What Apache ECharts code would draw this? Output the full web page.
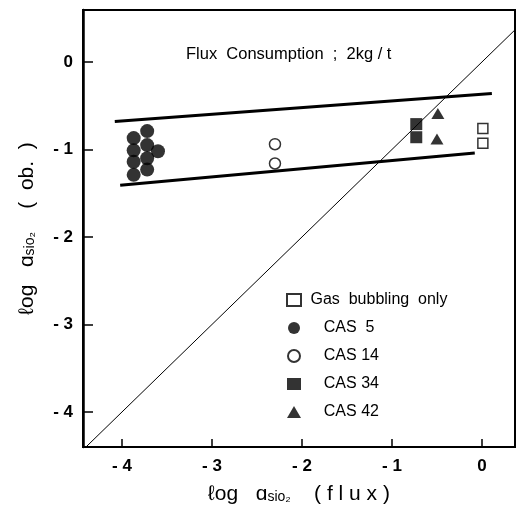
<!DOCTYPE html>
<html>
<head>
<meta charset="utf-8">
<script src="https://cdn.jsdelivr.net/npm/echarts@6/dist/echarts.min.js"></script>
<style>
  html, body { margin: 0; padding: 0; background: #fff; }
  #chart { width: 522px; height: 505px; }
</style>
</head>
<body>
<div id="chart"></div>
<script>
// log a(SiO2) in flux (x) vs. log a(SiO2) observed (y)
const tickValues = [-4, -3, -2, -1, 0];

const gasBubbling = [[0.01, -0.76], [0.01, -0.93]];
const cas5 = [
  [-3.87, -0.87], [-3.87, -1.01], [-3.87, -1.14], [-3.87, -1.29],
  [-3.72, -0.79], [-3.72, -0.95], [-3.72, -1.10], [-3.72, -1.23],
  [-3.60, -1.02]
];
const cas14 = [[-2.30, -0.94], [-2.30, -1.16]];
const cas34 = [[-0.73, -0.71], [-0.73, -0.86]];
const cas42 = [[-0.49, -0.59], [-0.50, -0.88]];

// bounding lines of the scatter band and the 1:1 line
const upperBound = [[-4.08, -0.68], [0.11, -0.36]];
const lowerBound = [[-4.02, -1.41], [-0.08, -1.04]];
const identityLine = [[-4.6, -4.6], [0.6, 0.6]];

const fmt = v => (v < 0 ? '- ' + Math.abs(v) : String(v));
const FONT = 'Liberation Sans';

const chart = echarts.init(document.getElementById('chart'), null, { renderer: 'canvas' });

const lineSeries = (data, width) => ({
  type: 'line', data, symbol: 'none', silent: true, clip: true,
  lineStyle: { color: '#000', width }, z: 3
});

const nameRich = {
  a: { fontFamily: FONT, fontSize: 21, color: '#000' },
  s: { fontFamily: FONT, fontSize: 14, color: '#000', padding: [5, 0, 0, 0] }
};

chart.setOption({
  animation: false,
  backgroundColor: '#fff',
  textStyle: { fontFamily: FONT, color: '#000' },
  title: {
    text: 'Flux  Consumption  ;  2kg / t',
    left: 181, top: 41,
    textStyle: { fontFamily: FONT, fontSize: 16.5, fontWeight: 'normal', color: '#000' }
  },
  grid: {
    left: 83, right: 7, top: 10, bottom: 58,
    outerBoundsMode: 'none',
    show: true, borderColor: '#000', borderWidth: 2, backgroundColor: 'transparent'
  },
  legend: {
    data: ['Gas bubbling only', 'CAS 5', 'CAS 14', 'CAS 34', 'CAS 42'],
    orient: 'vertical', left: 281, top: 287,
    itemWidth: 14, itemHeight: 12, itemGap: 12,
    formatter: name => (name === 'Gas bubbling only' ? ' Gas  bubbling  only'
      : name === 'CAS 5' ? '    CAS  5' : '    ' + name),
    textStyle: { fontFamily: FONT, fontSize: 16, color: '#000' }
  },
  xAxis: {
    type: 'value', min: -4.433, max: 0.367,
    name: '{a|ℓog   ɑ}{s|sio₂}{a|    ( f l u x )}',
    nameLocation: 'middle', nameGap: 37,
    nameTextStyle: { rich: nameRich },
    axisLine: { show: true, onZero: false, lineStyle: { color: '#000', width: 2 } },
    axisTick: { show: true, inside: true, length: 8, customValues: tickValues, lineStyle: { color: '#000', width: 1.5 } },
    axisLabel: {
      customValues: tickValues, formatter: fmt, margin: 11,
      fontFamily: FONT, fontSize: 17, fontWeight: 'bold', color: '#000'
    },
    splitLine: { show: false }
  },
  yAxis: {
    type: 'value', min: -4.4, max: 0.594,
    name: '{a|ℓog   ɑ}{s|sio₂}{a|    (  ob.  )}',
    nameLocation: 'middle', nameGap: 45, nameRotate: 90,
    nameTextStyle: { rich: nameRich },
    axisLine: { show: true, onZero: false, lineStyle: { color: '#000', width: 2.5 } },
    axisTick: { show: true, inside: true, length: 10, customValues: tickValues, lineStyle: { color: '#000', width: 1.5 } },
    axisLabel: {
      customValues: tickValues, formatter: fmt, margin: 10,
      fontFamily: FONT, fontSize: 17, fontWeight: 'bold', color: '#000'
    },
    splitLine: { show: false }
  },
  series: [
    lineSeries(identityLine, 1),
    lineSeries(upperBound, 3),
    lineSeries(lowerBound, 3),
    {
      name: 'Gas bubbling only', type: 'scatter', data: gasBubbling,
      symbol: 'rect', symbolSize: 10, z: 5,
      itemStyle: { color: '#fff', borderColor: '#000', borderWidth: 1.5 }
    },
    {
      name: 'CAS 5', type: 'scatter', data: cas5,
      symbol: 'circle', symbolSize: 14, z: 5,
      itemStyle: { color: '#000', borderColor: '#000', borderWidth: 0 }
    },
    {
      name: 'CAS 14', type: 'scatter', data: cas14,
      symbol: 'circle', symbolSize: 11, z: 5,
      itemStyle: { color: '#fff', borderColor: '#000', borderWidth: 1.5 }
    },
    {
      name: 'CAS 34', type: 'scatter', data: cas34,
      symbol: 'rect', symbolSize: 12, z: 5,
      itemStyle: { color: '#000' }
    },
    {
      name: 'CAS 42', type: 'scatter', data: cas42,
      symbol: 'triangle', symbolSize: [13, 11], z: 5,
      itemStyle: { color: '#000' }
    }
  ]
});
</script>
</body>
</html>
